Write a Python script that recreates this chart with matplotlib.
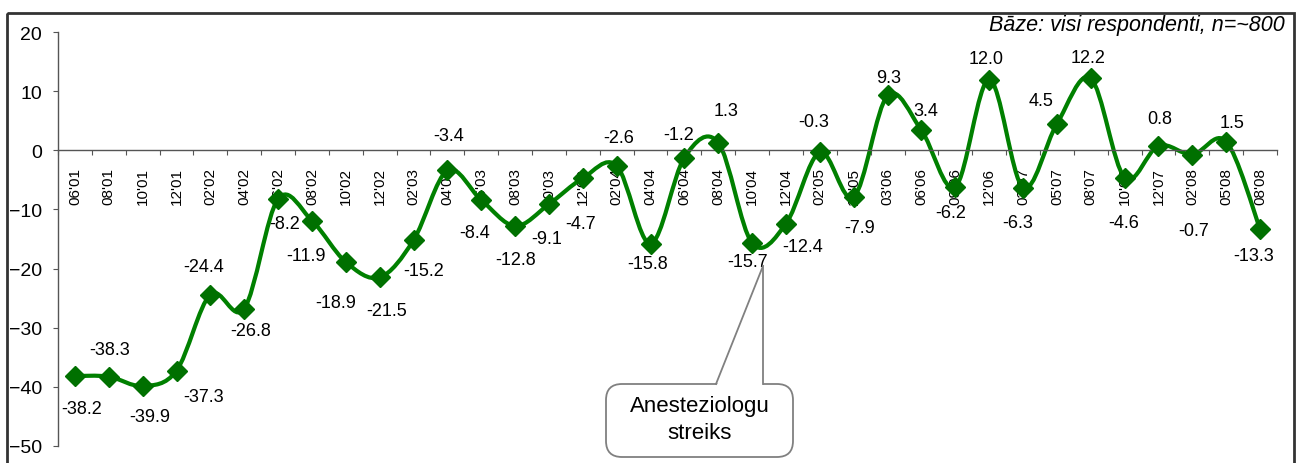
import numpy as np
import matplotlib
matplotlib.use('Agg')
import matplotlib.pyplot as plt
import matplotlib.transforms as mtransforms
from matplotlib.path import Path
from matplotlib.patches import PathPatch, FancyBboxPatch, Polygon, Rectangle
from matplotlib.lines import Line2D

# Survey periods (month'year) and index values
periods = ["06'01", "08'01", "10'01", "12'01", "02'02", "04'02", "06'02", "08'02",
           "10'02", "12'02", "02'03", "04'03", "06'03", "08'03", "10'03", "12'03",
           "02'04", "04'04", "06'04", "08'04", "10'04", "12'04", "02'05", "12'05",
           "03'06", "06'06", "09'06", "12'06", "03'07", "05'07", "08'07", "10'07",
           "12'07", "02'08", "05'08", "08'08"]
values = [-38.2, -38.3, -39.9, -37.3, -24.4, -26.8, -8.2, -11.9,
          -18.9, -21.5, -15.2, -3.4, -8.4, -12.8, -9.1, -4.7,
          -2.6, -15.8, -1.2, 1.3, -15.7, -12.4, -0.3, -7.9,
          9.3, 3.4, -6.2, 12.0, -6.3, 4.5, 12.2, -4.6,
          0.8, -0.7, 1.5, -13.3]

# where each data label sits relative to its marker (pixels, y up)
label_offsets = [(7, -32), (1, 27), (7, -30), (27, -26), (-7, 28), (6, -22), (7, -25), (-6, -35),
                 (-10, -40), (7, -33), (10, -30), (1, 35), (-7, -32), (0, -33), (-2, -34), (-2, -45),
                 (2, 28), (-3, -20), (-6, 23), (8, 32), (-5, -18), (17, -23), (-6, 31), (6, -30),
                 (1, 18), (4, 20), (-5, -25), (-3, 21), (-5, -35), (-16, 23), (-3, 21), (-1, -45),
                 (1, 27), (1, -76), (6, 19), (-6, -27)]

GREEN = '#008000'
DARK_GREEN = '#007000'
GREY = '#808080'

plt.rcParams['font.family'] = ['Liberation Sans', 'DejaVu Sans']


# Excel-like smoothed line: cubic bezier through every data point
def smooth_path(xs, ys):
    pts = np.column_stack([xs, ys]).astype(float)
    n = len(pts)
    verts = [pts[0]]
    codes = [Path.MOVETO]
    for i in range(n - 1):
        p0 = pts[i - 1] if i > 0 else pts[i]
        p1 = pts[i]
        p2 = pts[i + 1]
        p3 = pts[i + 2] if i + 2 < n else pts[i + 1]
        verts += [p1 + (p2 - p0) / 6, p2 - (p3 - p1) / 6, p2]
        codes += [Path.CURVE4] * 3
    return Path(verts, codes)


W, H = 1298, 464
fig = plt.figure(figsize=(W / 100, H / 100), dpi=100)
ax = fig.add_axes([58 / W, 1 - 446.7 / H, (1277 - 58) / W, (446.7 - 33.3) / H])

x = np.arange(len(values))
ax.set_xlim(-0.5, len(values) - 0.5)
ax.set_ylim(-50, 20)

ax.add_patch(PathPatch(smooth_path(x, values), facecolor='none', edgecolor=GREEN,
                       lw=3, capstyle='round', joinstyle='round', zorder=2))
ax.plot(x, values, linestyle='none', marker='D', ms=10, color=DARK_GREEN,
        mec=DARK_GREEN, mew=1, zorder=3)

for xi, v, (dx, dy) in zip(x, values, label_offsets):
    ax.annotate(f'{v:.1f}', (xi, v), xytext=(dx, dy), textcoords='offset pixels',
                ha='center', va='center', fontsize=13, color='black', zorder=4)

# axes: category ticks between points, labels at points
ax.spines['top'].set_visible(False)
ax.spines['right'].set_visible(False)
ax.spines['bottom'].set_position(('data', 0))
for s in ('left', 'bottom'):
    ax.spines[s].set_color('#555555')
    ax.spines[s].set_linewidth(1)

ax.set_xticks(np.arange(len(periods) + 1) - 0.5)
ax.set_xticklabels([])
ax.set_xticks(x, minor=True)
ax.set_xticklabels(periods, minor=True, rotation=90, fontsize=11)
ax.tick_params(axis='x', which='major', direction='out', length=3.5, color='#555555')
ax.tick_params(axis='x', which='minor', length=0, pad=12)

ax.set_yticks(range(-50, 21, 10))
ax.tick_params(axis='y', direction='out', length=3.6, pad=8, labelsize=14, color='#555555')

# pixel coordinates measured from the top-left corner of the image
pix = mtransforms.Affine2D().scale(1 / W, -1 / H).translate(0, 1) + fig.transFigure

fig.add_artist(Rectangle((7, 14), 1287, 470, transform=pix, fill=False,
                         ec='#333333', lw=2, zorder=6))
fig.text(1285, 25, 'Bāze: visi respondenti, n=~800', transform=pix, ha='right',
         va='center', style='italic', fontsize=15.5)

# callout box
fig.add_artist(FancyBboxPatch((606, 385), 187, 73, boxstyle='round,pad=0,rounding_size=16',
                              transform=pix, fc='white', ec=GREY, lw=1.3, zorder=5))
fig.add_artist(Polygon([(716.5, 387), (763, 267), (763, 387)], closed=True, transform=pix,
                       fc='white', ec='none', zorder=5.1))
fig.add_artist(Line2D([716, 763], [385, 267], transform=pix, color=GREY, lw=1.3, zorder=5.2))
fig.add_artist(Line2D([763, 763], [385, 267], transform=pix, color=GREY, lw=1.3, zorder=5.2))
fig.text(700, 420, 'Anesteziologu\nstreiks', transform=pix, ha='center', va='center',
         fontsize=16, linespacing=1.35, zorder=5.3)

fig.savefig('out.png', dpi=100)
